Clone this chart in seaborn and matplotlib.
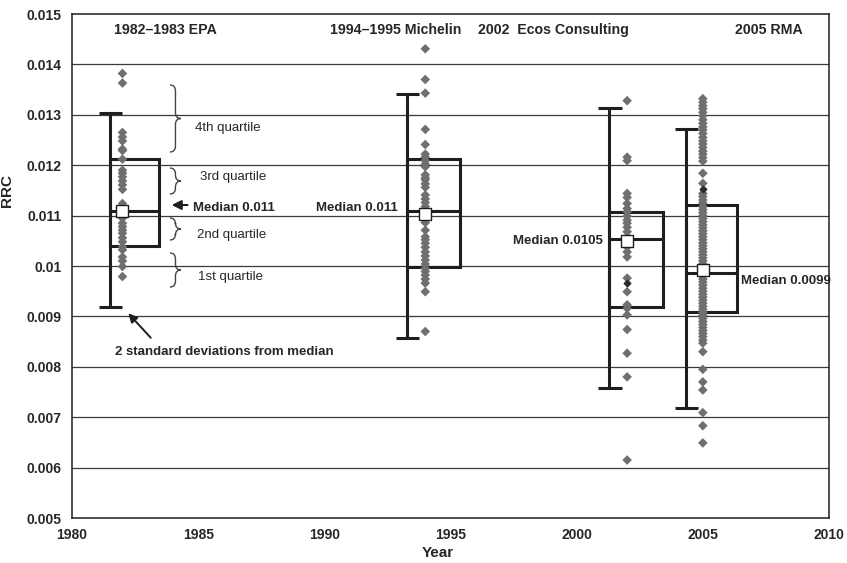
import numpy as np
import pandas as pd
import matplotlib
matplotlib.use("Agg")
import matplotlib.pyplot as plt
import seaborn as sns
from matplotlib.path import Path
from matplotlib.patches import PathPatch, Rectangle

# --- data ------------------------------------------------------------------
groups = ["1982–1983 EPA", "1994–1995 Michelin", "2002  Ecos Consulting", "2005 RMA"]
years = [1982, 1994, 2002, 2005]

epa_vals = [0.01382, 0.01363, 0.01265, 0.01256, 0.01248, 0.01232, 0.01229, 0.01212,
            0.01190, 0.01184, 0.01177, 0.01169, 0.01161, 0.01152, 0.01124, 0.01105,
            0.01095, 0.01085, 0.01078, 0.01071, 0.01065, 0.01056, 0.01048, 0.01038,
            0.01032, 0.01018, 0.01010, 0.00999, 0.00979]
mich_vals = [0.01431, 0.01370, 0.01343, 0.01271, 0.01241, 0.01222, 0.01216, 0.01209,
             0.01202, 0.01197, 0.01181, 0.01175, 0.01171, 0.01163, 0.01156, 0.01141,
             0.01133, 0.01126, 0.01118, 0.01110, 0.01101, 0.01086, 0.01071, 0.01058,
             0.01052, 0.01045, 0.01037, 0.01028, 0.01020, 0.01012, 0.01004, 0.00995,
             0.00989, 0.00982, 0.00974, 0.00966, 0.00949, 0.00870]
ecos_vals = [0.01328, 0.01216, 0.01209, 0.01144, 0.01136, 0.01124, 0.01114, 0.01108,
             0.01099, 0.01091, 0.01085, 0.01077, 0.01068, 0.01058, 0.01052, 0.01038,
             0.01028, 0.01018, 0.00976, 0.00949, 0.00923, 0.00916, 0.00903, 0.00874,
             0.00827, 0.00780, 0.00615]
rma_vals = [0.01332, 0.01325, 0.01318, 0.01312, 0.01305, 0.01298, 0.01290, 0.01283,
            0.01276, 0.01270, 0.01263, 0.01255, 0.01248, 0.01242, 0.01235, 0.01228,
            0.01222, 0.01215, 0.01208, 0.01184, 0.01164, 0.01144, 0.01138, 0.01131,
            0.01125, 0.01118, 0.01112, 0.01106, 0.01100, 0.01094, 0.01088, 0.01082,
            0.01076, 0.01070, 0.01064, 0.01058, 0.01052, 0.01046, 0.01040, 0.01034,
            0.01028, 0.01022, 0.01016, 0.01010, 0.01004, 0.00998, 0.00992, 0.00986,
            0.00980, 0.00974, 0.00968, 0.00962, 0.00956, 0.00950, 0.00944, 0.00938,
            0.00932, 0.00926, 0.00920, 0.00914, 0.00908, 0.00902, 0.00896, 0.00890,
            0.00884, 0.00878, 0.00872, 0.00866, 0.00860, 0.00853, 0.00847, 0.00830,
            0.00795, 0.00770, 0.00754, 0.00709, 0.00683, 0.00649]
dark_years = [2002, 2005]
dark_vals = [0.00967, 0.01153]

q1 = [0.01040, 0.00999, 0.00918, 0.00908]
q3 = [0.01212, 0.01212, 0.01108, 0.01121]
medians = [0.01109, 0.01109, 0.01053, 0.00987]
marker_vals = [0.01110, 0.01104, 0.01050, 0.00992]
whisk_lo = [0.00919, 0.00858, 0.00757, 0.00718]
whisk_hi = [0.01304, 0.01341, 0.01313, 0.01272]
median_labels = ["Median 0.011", "Median 0.011", "Median 0.0105", "Median 0.0099"]

# layout of the hand-drawn boxes (offset of whisker from year, box width)
whisk_off = [-0.50, -0.71, -0.70, -0.68]
box_w = [1.95, 2.08, 2.14, 2.02]

df = pd.DataFrame({
    "Year": [years[0]] * len(epa_vals) + [years[1]] * len(mich_vals)
            + [years[2]] * len(ecos_vals) + [years[3]] * len(rma_vals),
    "RRC": epa_vals + mich_vals + ecos_vals + rma_vals,
})

# --- style ------------------------------------------------------------------
sns.set_style("white")
plt.rcParams["font.family"] = ["Liberation Sans", "DejaVu Sans"]
ink = "#1e1e1e"

fig = plt.figure(figsize=(8.47, 5.63), dpi=100)
ax = fig.add_axes([72 / 847, 1 - 518 / 563, 757 / 847, 504 / 563])

ax.set_xlim(1980, 2010)
ax.set_ylim(0.005, 0.015)
ax.set_yticks(np.arange(0.005, 0.0151, 0.001))
ax.set_yticklabels(["0.005", "0.006", "0.007", "0.008", "0.009", "0.01",
                    "0.011", "0.012", "0.013", "0.014", "0.015"])
ax.set_xticks([1980, 1985, 1990, 1995, 2000, 2005, 2010])
for y in np.arange(0.006, 0.0150, 0.001):
    ax.axhline(y, color="#3a3a3a", lw=0.9, zorder=1)

# whiskers and boxes
for i in range(4):
    wx = years[i] + whisk_off[i]
    ax.plot([wx, wx], [whisk_lo[i], whisk_hi[i]], color=ink, lw=2.2, zorder=2,
            solid_capstyle="butt")
    for yv in (whisk_lo[i], whisk_hi[i]):
        ax.plot([wx - 0.44, wx + 0.48], [yv, yv], color=ink, lw=2.2, zorder=2,
                solid_capstyle="butt")
    ax.add_patch(Rectangle((wx, q1[i]), box_w[i], q3[i] - q1[i], fill=False,
                           edgecolor=ink, lw=2.2, zorder=2))
    ax.plot([wx, wx + box_w[i]], [medians[i], medians[i]], color=ink, lw=2.2, zorder=2)

sns.scatterplot(data=df, x="Year", y="RRC", marker="D", s=24, color="#6f6f6f",
                edgecolor="none", ax=ax, zorder=3, legend=False)
ax.scatter(dark_years, dark_vals, marker="D", s=11, color="#2a2a2a", zorder=4)
ax.scatter(years, marker_vals, marker="s", s=80, facecolor="white",
           edgecolor=ink, lw=1.0, zorder=5)

# frame and ticks
for sp in ax.spines.values():
    sp.set_color(ink)
    sp.set_linewidth(1.1)
ax.tick_params(axis="y", length=6, width=1.1, pad=1.5, labelsize=10, color=ink)
ax.tick_params(axis="x", length=5, width=1.1, pad=2, labelsize=10, color=ink)
for lab in ax.get_xticklabels() + ax.get_yticklabels():
    lab.set_fontweight("bold")

ax.set_xlabel("Year", fontsize=11, fontweight="bold")
ax.set_ylabel("RRC", fontsize=11, fontweight="bold")
ax.xaxis.set_label_coords(0.4835, -0.056)
ax.yaxis.set_label_coords(-0.076, 0.649)

# group titles
title_x = [1983.71, 1992.82, 1999.08, 2007.63]
for gx, g in zip(title_x, groups):
    ax.text(gx, 0.01468, g, ha="center", va="center", fontsize=10.2, fontweight="bold")

# median labels
ax.text(1984.80, 0.011151, median_labels[0], ha="left", va="center", fontsize=9.5, fontweight="bold")
ax.text(1992.90, 0.011151, median_labels[1], ha="right", va="center", fontsize=9.5, fontweight="bold")
ax.text(2001.05, 0.010496, median_labels[2], ha="right", va="center", fontsize=9.5, fontweight="bold")
ax.text(2006.52, 0.009702, median_labels[3], ha="left", va="center", fontsize=9.5, fontweight="bold")


def brace(x0, y_top, y_bot, w=0.44, c=0.00012):
    xm = x0 + w / 2
    ym = (y_top + y_bot) / 2
    verts = [(x0, y_top), (xm, y_top), (xm, y_top - c), (xm, ym + c),
             (xm, ym), (x0 + w, ym), (xm, ym), (xm, ym - c),
             (xm, y_bot + c), (xm, y_bot), (x0, y_bot)]
    codes = [Path.MOVETO, Path.CURVE3, Path.CURVE3, Path.LINETO,
             Path.CURVE3, Path.CURVE3, Path.CURVE3, Path.CURVE3,
             Path.LINETO, Path.CURVE3, Path.CURVE3]
    ax.add_patch(PathPatch(Path(verts, codes), fill=False, edgecolor="#444444",
                           lw=1.0, zorder=4))


brace(1983.88, 0.013591, 0.012262)
brace(1983.88, 0.011944, 0.011429)
brace(1983.88, 0.010952, 0.010516)
brace(1983.88, 0.010258, 0.009583)

ax.text(1984.875, 0.012738, "4th quartile", fontsize=9.5, va="center")
ax.text(1985.07, 0.011766, "3rd quartile", fontsize=9.5, va="center")
ax.text(1984.95, 0.010615, "2nd quartile", fontsize=9.5, va="center")
ax.text(1984.99, 0.009782, "1st quartile", fontsize=9.5, va="center")

ax.annotate("", xy=(1983.95, 0.01121), xytext=(1984.58, 0.01121),
            arrowprops=dict(arrowstyle="-|>", color=ink, lw=1.5, mutation_scale=14,
                            shrinkA=0, shrinkB=0))
ax.annotate("", xy=(1982.23, 0.009061), xytext=(1983.12, 0.008577),
            arrowprops=dict(arrowstyle="-|>", color=ink, lw=1.4, mutation_scale=13,
                            shrinkA=0, shrinkB=0))
ax.text(1981.70, 0.008294, "2 standard deviations from median", fontsize=9.5,
        fontweight="bold", va="center")

fig.savefig("out.png", dpi=100)
